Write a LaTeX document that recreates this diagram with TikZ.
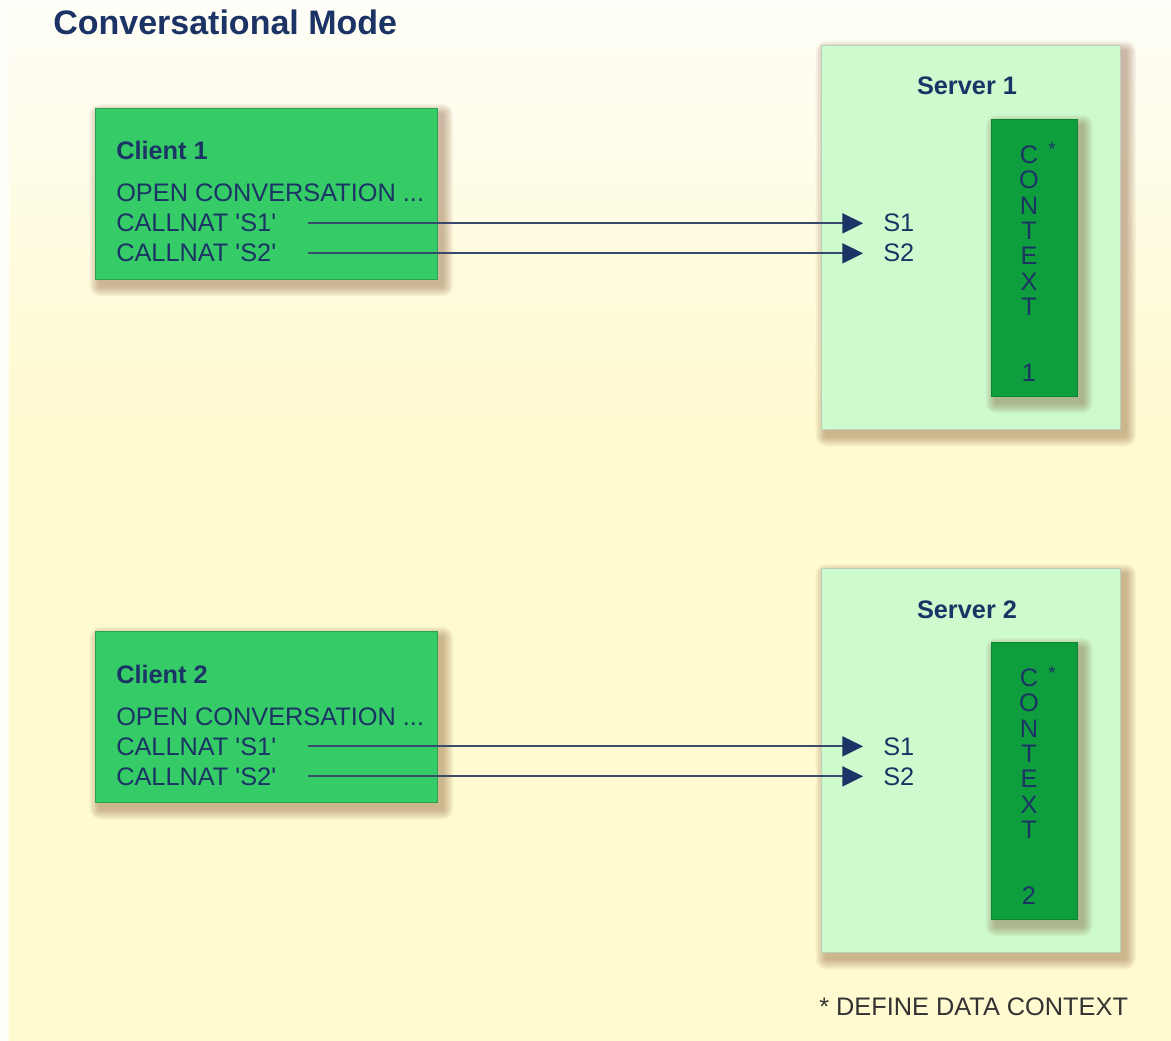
\documentclass[tikz,border=0pt]{standalone}
\usepackage{fontspec}
\setmainfont{Liberation Sans}[Ligatures=TeXOff]
\usetikzlibrary{arrows.meta,positioning}
\definecolor{navy}{HTML}{1B3465}
\definecolor{clientgreen}{HTML}{35CB67}
\definecolor{servergreen}{HTML}{CEFBCE}
\definecolor{ctxgreen}{HTML}{0F9E3D}
\definecolor{paper}{HTML}{FFFAD0}
\definecolor{papertop}{HTML}{FFFEF8}
\definecolor{shadowbrown}{HTML}{7A4522}
\pgfdeclarelayer{bg}
\pgfdeclarelayer{shade}
\pgfdeclarelayer{ctxshade}
\pgfdeclarelayer{ctxtop}
\pgfsetlayers{bg,shade,main,ctxshade,ctxtop}
\newcommand\softshadow[2]{%
  \begin{pgfonlayer}{#1}
    \foreach \r in {1,...,8}
    \fill[shadowbrown, opacity=0.055, rounded corners=\r pt]
      ([xshift=4pt-\r pt, yshift=-5pt-\r pt]#2.south west) rectangle
      ([xshift=4pt+\r pt, yshift=-5pt+\r pt]#2.north east);
  \end{pgfonlayer}}
\begin{document}
\begin{tikzpicture}[x=0.75pt, y=-0.75pt, >=latex]
	\tikzstyle{txt} = [inner sep=0pt, anchor=base west, text=navy, text height=13pt, text depth=0pt, font=\fontsize{19}{22}\selectfont]
	\tikzstyle{lbl} = [txt, font=\fontsize{19}{22}\selectfont\bfseries]
	\tikzstyle{clientbox} = [rectangle, inner sep=0pt, outer sep=0pt, fill=clientgreen, draw=clientgreen!80!black, line width=0.6pt, minimum width=256.5pt, minimum height=128.25pt]
	\tikzstyle{serverbox} = [rectangle, inner sep=0pt, outer sep=0pt, fill=servergreen, draw=servergreen!70!black!60, line width=0.6pt, minimum width=224.25pt, minimum height=288pt]
	\tikzstyle{ctxbox} = [rectangle, inner sep=0pt, outer sep=0pt, fill=ctxgreen, draw=ctxgreen!85!black, line width=0.6pt, minimum width=64.5pt, minimum height=207.75pt]
	\tikzstyle{call} = [navy!70!gray, line width=1.5pt, shorten <=24pt, shorten >=15pt, -{Triangle[length=15.5pt, width=15pt, color=navy]}]
	\useasboundingbox (0,0) rectangle (1171,1041);
	\begin{pgfonlayer}{bg}
		\fill[paper] (0,0) rectangle (1171,1041);
		\shade[top color=papertop, bottom color=paper] (9,0) rectangle (1171,420);
		\fill[papertop] (0,0) rectangle (9,1041);
	\end{pgfonlayer}
	\node (title) [anchor=base west, inner sep=0pt, text=navy, font=\fontsize{25.5}{30}\selectfont\bfseries] at (53,35) {Conversational Mode};
	\foreach \i/\y in {1/0, 2/523}{
		\node (client\i) [clientbox] at (266,193.5+\y) {};
		\node (server\i) [serverbox] at (970.5,237+\y) {};
		\softshadow{shade}{client\i}
		\softshadow{shade}{server\i}
		\node (cname\i) [lbl] at (116,160+\y) {Client \i};
		\node (open\i) [txt] at (116,202+\y) {OPEN CONVERSATION ...};
		\node (callA\i) [txt] at (116,232+\y) {CALLNAT 'S1'};
		\node (callB\i) [txt] at (116,262+\y) {CALLNAT 'S2'};
		\node (sname\i) [lbl, anchor=base] at (967,95+\y) {Server \i};
		\node (sA\i) [txt] at (883,232+\y) {S1};
		\node (sB\i) [txt] at (883,262+\y) {S2};
		\draw[call] (callA\i) -- (sA\i);
		\draw[call] (callB\i) -- (sB\i);
		\begin{pgfonlayer}{ctxtop}
			\node (ctx\i) [ctxbox] at (1034,257.5+\y) {};
			\foreach \l [count=\k] in {C,O,N,T,E,X,T}
			\node (ctx\i-\k) [txt, anchor=base] at (1029,138.3+25.3*\k+\y) {\l};
			\node (ctxnum\i) [txt, anchor=base] at (1029,381.6+\y) {\i};
			\node (star\i) [txt, anchor=base, font=\fontsize{14}{16}\selectfont] at (1052,156+\y) {*};
		\end{pgfonlayer}
		\softshadow{ctxshade}{ctx\i}
	}
	\node (note) [txt, text=black!80] at (819,1015) {* DEFINE DATA CONTEXT};
\end{tikzpicture}
\end{document}
